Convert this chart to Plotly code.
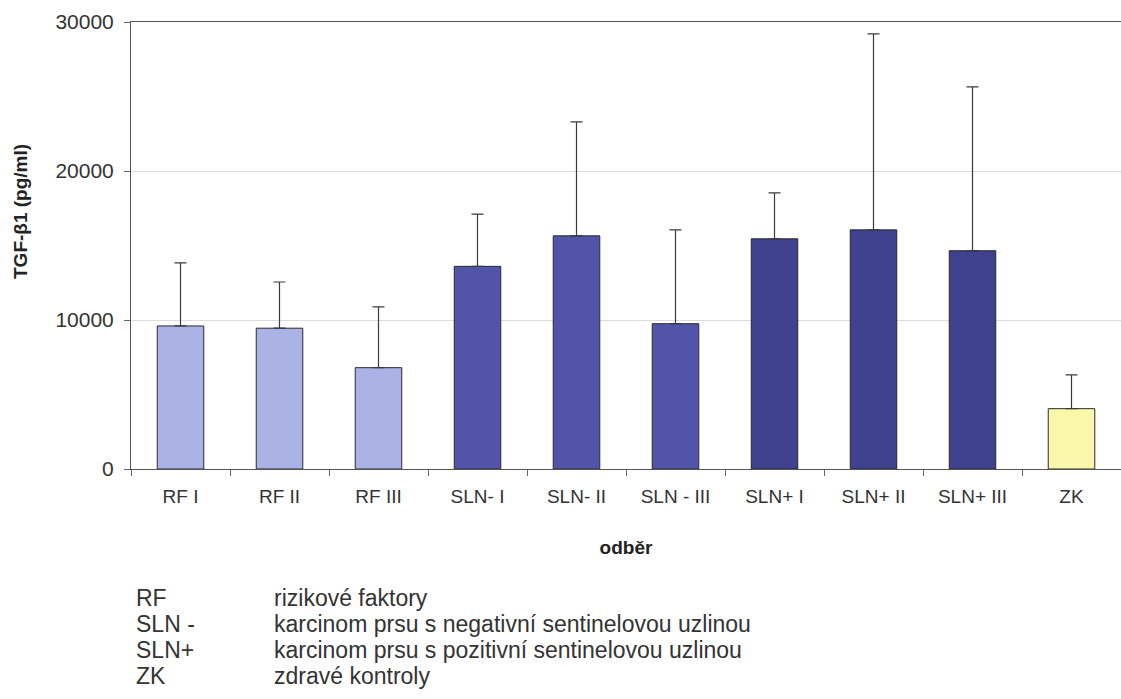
import plotly.graph_objects as go

categories = ["RF I", "RF II", "RF III", "SLN- I", "SLN- II", "SLN - III",
              "SLN+ I", "SLN+ II", "SLN+ III", "ZK"]
means = [9600, 9450, 6800, 13600, 15650, 9750, 15450, 16050, 14650, 4050]
sd_plus = [4230, 3100, 4080, 3500, 7650, 6300, 3080, 13150, 11000, 2270]
groups = ["RF", "RF", "RF", "SLN-", "SLN-", "SLN-", "SLN+", "SLN+", "SLN+", "ZK"]
group_colors = {"RF": "#aab2e6", "SLN-": "#5254aa", "SLN+": "#3f418f", "ZK": "#f9f7aa"}

y_tickvals = [0, 10000, 20000, 30000]
y_ticktext = ["0", "10000", "20000", "30000"]

legend_abbr = ["RF", "SLN -", "SLN+", "ZK"]
legend_desc = ["rizikové faktory",
               "karcinom prsu s negativní sentinelovou uzlinou",
               "karcinom prsu s pozitivní sentinelovou uzlinou",
               "zdravé kontroly"]

W, H = 1121, 699
L, R, T, B = 131, 0, 22, 230
ph = H - T - B
pw = W - L - R
FONT = "Liberation Sans, Arial, sans-serif"

fig = go.Figure()
fig.add_trace(go.Bar(
    x=categories, y=means,
    marker=dict(color=[group_colors[g] for g in groups],
                line=dict(color="#2a2a2a", width=1)),
    error_y=dict(type="data", array=sd_plus, symmetric=False,
                 arrayminus=[0] * len(means),
                 color="#3a3a3a", thickness=1.2, width=6),
    width=0.47,
    showlegend=False,
))

annotations = []
leg_y = [598, 624, 650, 676]
for a, d, py in zip(legend_abbr, legend_desc, leg_y):
    yp = (H - B - py) / ph
    annotations.append(dict(text=a, xref="paper", yref="paper", x=(134 - L) / pw, y=yp,
                            xanchor="left", yanchor="middle", showarrow=False,
                            font=dict(family=FONT, size=23, color="#333")))
    annotations.append(dict(text=d, xref="paper", yref="paper", x=(272 - L) / pw, y=yp,
                            xanchor="left", yanchor="middle", showarrow=False,
                            font=dict(family=FONT, size=23, color="#333")))

# y-axis title (placed slightly above centre as in the original)
annotations.append(dict(text="<b>TGF-β1 (pg/ml)</b>", textangle=-90,
                        xref="paper", yref="paper", x=(20 - L) / pw, y=(H - B - 212) / ph,
                        xanchor="center", yanchor="middle", showarrow=False,
                        font=dict(family=FONT, size=19, color="#222")))

fig.update_layout(
    width=W, height=H,
    margin=dict(l=L, r=R, t=T, b=B),
    paper_bgcolor="white", plot_bgcolor="white",
    font=dict(family=FONT, color="#333"),
    annotations=annotations,
    xaxis=dict(
        showline=True, linecolor="#555", linewidth=1, mirror=True,
        ticks="outside", tickson="boundaries", ticklen=6, tickcolor="#666",
        tickfont=dict(size=19, color="#333"), ticklabelstandoff=10,
        title=dict(text="<b>odběr</b>", font=dict(size=19, color="#222"), standoff=34),
        showgrid=False,
    ),
    yaxis=dict(
        range=[0, 30000], tickvals=y_tickvals, ticktext=y_ticktext,
        showline=True, linecolor="#555", linewidth=1,
        ticks="outside", ticklen=6, tickcolor="#666",
        tickfont=dict(size=21, color="#333"), ticklabelstandoff=6,
        showgrid=True, gridcolor="#dcdcdc", gridwidth=1,
        zeroline=False,
    ),
)

fig.write_html("out.html")
